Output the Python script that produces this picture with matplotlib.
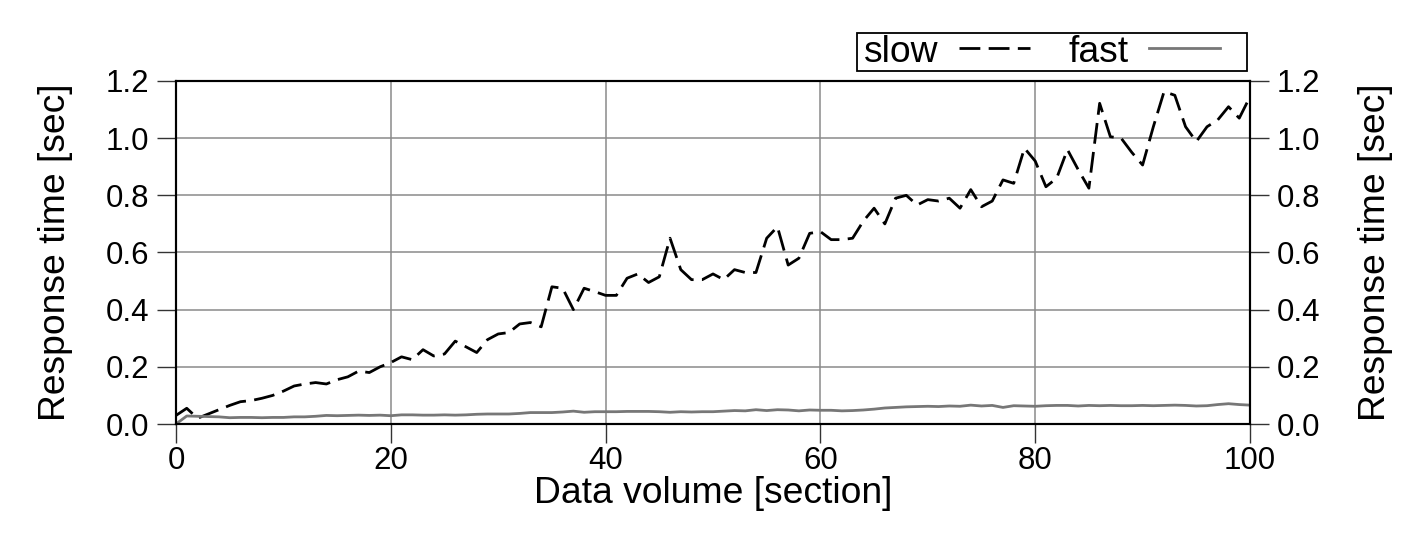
import matplotlib
matplotlib.use("Agg")
import matplotlib.pyplot as plt
from matplotlib.patches import Rectangle

plt.rcParams['font.family'] = ['Liberation Sans', 'DejaVu Sans']
plt.rcParams['lines.scale_dashes'] = False

x_values = list(range(0, 101))

slow = [0.03, 0.055, 0.02, 0.035, 0.05, 0.065, 0.078, 0.082, 0.09, 0.10,
        0.115, 0.133, 0.14, 0.145, 0.14, 0.155, 0.165, 0.185, 0.18, 0.20,
        0.215, 0.235, 0.225, 0.26, 0.238, 0.245, 0.29, 0.27, 0.25, 0.295,
        0.315, 0.32, 0.35, 0.355, 0.34, 0.48, 0.475, 0.40, 0.475, 0.463,
        0.45, 0.45, 0.51, 0.525, 0.495, 0.515, 0.65, 0.54, 0.505, 0.505,
        0.525, 0.505, 0.54, 0.53, 0.53, 0.65, 0.69, 0.556, 0.58, 0.667,
        0.673, 0.645, 0.645, 0.65, 0.71, 0.755, 0.70, 0.79, 0.80, 0.766,
        0.785, 0.78, 0.79, 0.755, 0.82, 0.76, 0.78, 0.854, 0.842, 0.965,
        0.92, 0.83, 0.86, 0.96, 0.89, 0.825, 1.122, 1.005, 1.0, 0.95,
        0.906, 1.04, 1.163, 1.15, 1.04, 0.988, 1.04, 1.064, 1.11, 1.07,
        1.145]

fast = [0.0, 0.028, 0.027, 0.026, 0.025, 0.022, 0.023, 0.023, 0.022, 0.023,
        0.023, 0.025, 0.025, 0.027, 0.030, 0.029, 0.030, 0.031, 0.030, 0.031,
        0.029, 0.032, 0.032, 0.031, 0.031, 0.032, 0.031, 0.032, 0.034, 0.035,
        0.035, 0.035, 0.037, 0.040, 0.040, 0.040, 0.042, 0.045, 0.041, 0.043,
        0.043, 0.043, 0.044, 0.044, 0.044, 0.043, 0.041, 0.043, 0.042, 0.043,
        0.043, 0.045, 0.047, 0.046, 0.050, 0.047, 0.050, 0.049, 0.046, 0.049,
        0.048, 0.048, 0.046, 0.047, 0.049, 0.052, 0.056, 0.058, 0.060, 0.061,
        0.062, 0.061, 0.063, 0.062, 0.066, 0.063, 0.065, 0.058, 0.064, 0.063,
        0.062, 0.064, 0.065, 0.065, 0.063, 0.065, 0.064, 0.065, 0.064, 0.064,
        0.065, 0.064, 0.065, 0.066, 0.065, 0.063, 0.064, 0.068, 0.071, 0.068,
        0.066]

x_ticks = [0, 20, 40, 60, 80, 100]
y_ticks = [0.0, 0.2, 0.4, 0.6, 0.8, 1.0, 1.2]
y_tick_labels = ["0.0", "0.2", "0.4", "0.6", "0.8", "1.0", "1.2"]

TICK_FS = 22.5
LABEL_FS = 26.8
W, H = 1416, 540

fig = plt.figure(figsize=(W/100, H/100), dpi=100)
ax = fig.add_axes([176/W, 1-424/H, (1250-176)/W, (424-81)/H])

ax.grid(True, color='#8a8a8a', linewidth=1.1)
ax.set_axisbelow(True)

l1, = ax.plot(x_values, slow, color='black', linewidth=2.0, linestyle=(0, (15, 6)),
              label='slow')
l2, = ax.plot(x_values, fast, color='#777777', linewidth=2.0, label='fast')

ax.set_xlim(0, 100)
ax.set_ylim(0, 1.2)
ax.set_xticks(x_ticks)
ax.set_yticks(y_ticks)
ax.set_yticklabels(y_tick_labels)
ax.tick_params(axis='y', direction='out', length=13.5, width=1.0, color='#333333',
               labelsize=TICK_FS, pad=6)
ax.tick_params(axis='x', direction='out', length=13.5, width=1.0, color='#333333',
               labelsize=TICK_FS, pad=2)
for s in ax.spines.values():
    s.set_linewidth(1.5)
    s.set_color('black')

ax.set_xlabel('Data volume [section]', fontsize=LABEL_FS, labelpad=0)
ax.set_ylabel('Response time [sec]', fontsize=LABEL_FS, labelpad=23)

ax2 = ax.twinx()
ax2.set_ylim(0, 1.2)
ax2.set_yticks(y_ticks)
ax2.set_yticklabels(y_tick_labels)
ax2.tick_params(axis='y', direction='out', length=13.5, width=1.0, color='#333333',
                labelsize=TICK_FS, pad=5.5)
ax2.set_ylabel('Response time [sec]', fontsize=LABEL_FS, rotation=90, labelpad=27)
for s in ax2.spines.values():
    s.set_linewidth(1.5)
    s.set_color('black')

# legend frame (gnuplot-style box above the plot)
fig.patches.append(Rectangle((857/W, 1-71/H), (1247-857)/W, (71-33)/H,
                             transform=fig.transFigure, fill=True,
                             facecolor='white', edgecolor='black', linewidth=1.3,
                             zorder=5))

leg = fig.legend(handles=[l1, l2], loc='center left', ncol=2, markerfirst=False,
                 bbox_to_anchor=(864/W, 1-52/H), fontsize=LABEL_FS,
                 handlelength=1.9, handletextpad=0.55, columnspacing=1.05,
                 borderpad=0.0, borderaxespad=0.0, frameon=False)
leg.set_zorder(6)

fig.savefig('out.png', dpi=100)
